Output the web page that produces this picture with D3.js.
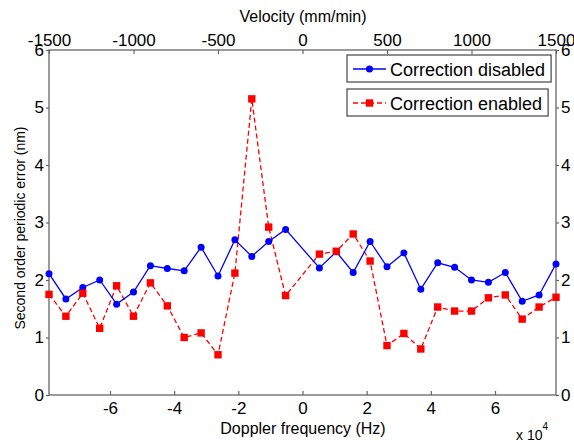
<!DOCTYPE html>
<html>
<head>
<meta charset="utf-8">
<script src="https://cdn.jsdelivr.net/npm/d3@7"></script>
<style>
  body { margin: 0; background: #fff; }
  text { font-family: "Liberation Sans", Arial, sans-serif; }
</style>
</head>
<body>
<svg class="chart" width="574" height="440"></svg>
<script>
// velocity of each measurement (mm/min), 0 was not measured
var velocity = [-1500, -1400, -1300, -1200, -1100, -1000, -900, -800, -700, -600, -500, -400, -300, -200, -100,
  100, 200, 300, 400, 500, 600, 700, 800, 900, 1000, 1100, 1200, 1300, 1400, 1500];
var disabled = [2.11, 1.67, 1.87, 2.00, 1.58, 1.79, 2.25, 2.20, 2.16, 2.57, 2.07, 2.70, 2.41, 2.67, 2.88,
  2.21, 2.49, 2.13, 2.67, 2.23, 2.47, 1.84, 2.30, 2.22, 2.00, 1.96, 2.13, 1.63, 1.74, 2.28];
var enabled = [1.75, 1.37, 1.77, 1.16, 1.90, 1.37, 1.95, 1.55, 1.00, 1.08, 0.70, 2.12, 5.15, 2.92, 1.73,
  2.45, 2.50, 2.80, 2.33, 0.86, 1.07, 0.80, 1.53, 1.46, 1.46, 1.69, 1.74, 1.32, 1.53, 1.70];
var velocityTicks = [-1500, -1000, -500, 0, 500, 1000, 1500];
var dopplerTicks = [-6, -4, -2, 0, 2, 4, 6];   // x 10^4 Hz
var yTicks = [0, 1, 2, 3, 4, 5, 6];
var dopplerMax = 7.9014; // x 10^4 Hz at 1500 mm/min

var svg = d3.select(".chart"),
  mLeft = 49, mRight = 556, mTop = 50, mBottom = 395;

var xTop = d3.scaleLinear().domain([-1500, 1500]).range([mLeft, mRight]),
  xBottom = d3.scaleLinear().domain([-dopplerMax, dopplerMax]).range([mLeft, mRight]),
  y = d3.scaleLinear().domain([0, 6]).range([mBottom, mTop]);

var plain = function (d) { return String(d); };

function styleAxis(g, size) {
  g.select(".domain").remove();
  g.selectAll(".tick line").attr("stroke", "#666").attr("stroke-width", 1.2);
  g.selectAll(".tick text").attr("fill", "#000").style("font-size", size + "px");
}

// bottom axis (Doppler)
svg.append("g")
  .attr("transform", "translate(0," + mBottom + ")")
  .call(d3.axisBottom(xBottom).tickValues(dopplerTicks).tickSize(-4).tickPadding(7).tickFormat(plain))
  .call(styleAxis, 17);

// top axis (velocity)
svg.append("g")
  .attr("transform", "translate(0," + mTop + ")")
  .call(d3.axisTop(xTop).tickValues(velocityTicks).tickSize(-4).tickPadding(4).tickFormat(plain))
  .call(styleAxis, 17);

svg.append("g")
  .attr("transform", "translate(" + mLeft + ",0)")
  .call(d3.axisLeft(y).tickValues(yTicks).tickSize(3).tickPadding(2).tickFormat(plain))
  .call(styleAxis, 17);

svg.append("g")
  .attr("transform", "translate(" + mRight + ",0)")
  .call(d3.axisRight(y).tickValues(yTicks).tickSize(3).tickPadding(2).tickFormat(plain))
  .call(styleAxis, 17);

svg.append("rect")
  .attr("x", mLeft).attr("y", mTop)
  .attr("width", mRight - mLeft).attr("height", mBottom - mTop)
  .attr("fill", "none").attr("stroke", "#666").attr("stroke-width", 1.3);

// series
var line = d3.line()
  .x(function (d, i) { return xTop(velocity[i]); })
  .y(function (d) { return y(d); });

svg.append("path").datum(enabled)
  .attr("d", line).attr("fill", "none")
  .attr("stroke", "#ff0000").attr("stroke-width", 1.3).attr("stroke-dasharray", "5,3");

svg.append("path").datum(disabled)
  .attr("d", line).attr("fill", "none")
  .attr("stroke", "#0000ff").attr("stroke-width", 1.3);

svg.selectAll(".dot").data(disabled).enter().append("circle")
  .attr("cx", function (d, i) { return xTop(velocity[i]); })
  .attr("cy", function (d) { return y(d); })
  .attr("r", 3.5).attr("fill", "#0000ff");

svg.selectAll(".sq").data(enabled).enter().append("rect")
  .attr("x", function (d, i) { return xTop(velocity[i]) - 3.7; })
  .attr("y", function (d) { return y(d) - 3.7; })
  .attr("width", 7.4).attr("height", 7.4).attr("fill", "#ff0000");

// axis titles
svg.append("text").attr("x", 303).attr("y", 22).attr("text-anchor", "middle")
  .style("font-size", "16px").text("Velocity (mm/min)");
svg.append("text").attr("x", 303).attr("y", 434).attr("text-anchor", "middle")
  .style("font-size", "16px").text("Doppler frequency (Hz)");
svg.append("text").attr("transform", "translate(25,228) rotate(-90)").attr("text-anchor", "middle")
  .style("font-size", "14px").text("Second order periodic error (nm)");
var ex = svg.append("text").attr("x", 516).attr("y", 440).style("font-size", "14px");
ex.append("tspan").text("x 10");
ex.append("tspan").attr("dy", -10).style("font-size", "10px").text("4");

// legends (two separate boxes)
var legends = [
  { label: "Correction disabled", color: "#0000ff", dash: null, marker: "circle", y: 55 },
  { label: "Correction enabled", color: "#ff0000", dash: "5,3", marker: "square", y: 89 }
];
legends.forEach(function (l) {
  var g = svg.append("g");
  var box = g.append("rect").attr("x", 347).attr("y", l.y).attr("height", 27)
    .attr("fill", "#fff").attr("stroke", "#444").attr("stroke-width", 1.2);
  var cy = l.y + 14;
  g.append("line").attr("x1", 353).attr("x2", 386).attr("y1", cy).attr("y2", cy)
    .attr("stroke", l.color).attr("stroke-width", 1.3).attr("stroke-dasharray", l.dash);
  if (l.marker === "circle") {
    g.append("circle").attr("cx", 369.5).attr("cy", cy).attr("r", 3.5).attr("fill", l.color);
  } else {
    g.append("rect").attr("x", 365.8).attr("y", cy - 3.7).attr("width", 7.4).attr("height", 7.4).attr("fill", l.color);
  }
  var t = g.append("text").attr("x", 390).attr("y", cy + 6.5).style("font-size", "18px").text(l.label);
  box.attr("width", 390 - 347 + t.node().getComputedTextLength() + 6);
});
</script>
</body>
</html>
